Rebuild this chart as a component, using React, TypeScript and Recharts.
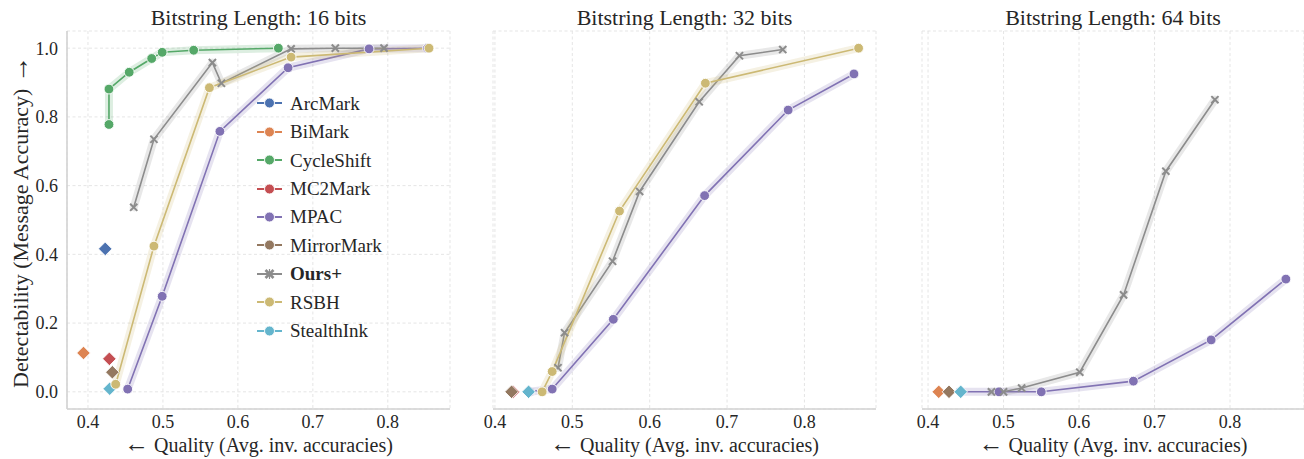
import { ComposedChart, Line, Scatter, XAxis, YAxis, CartesianGrid, Legend, Label } from "recharts";

const FONT = '"Liberation Serif", "DejaVu Serif", serif';
const TEXT = "#262626";
const AXIS = "#d2d2d2";
const GRID = "#e2e2e2";

// seaborn "deep"
const COLORS: Record<string, string> = {
  ArcMark: "#4C72B0",
  BiMark: "#DD8452",
  CycleShift: "#55A868",
  MC2Mark: "#C44E52",
  MPAC: "#8172B3",
  MirrorMark: "#937860",
  "Ours+": "#8C8C8C",
  RSBH: "#CCB974",
  StealthInk: "#64B5CD",
};

const legendNames = ["ArcMark", "BiMark", "CycleShift", "MC2Mark", "MPAC", "MirrorMark", "Ours+", "RSBH", "StealthInk"];

const yTicks = [0, 0.2, 0.4, 0.6, 0.8, 1.0];
const xTicks = [0.4, 0.5, 0.6, 0.7, 0.8];

type Pt = [number, number];

// 16 bits
const arcMark16: Pt[] = [[0.423, 0.416]];
const biMark16: Pt[] = [[0.394, 0.113]];
const cycleShift16: Pt[] = [[0.428, 0.778], [0.428, 0.881], [0.455, 0.93], [0.485, 0.97], [0.499, 0.988], [0.541, 0.994], [0.654, 1.0]];
const mc2Mark16: Pt[] = [[0.4285, 0.096]];
const mpac16: Pt[] = [[0.453, 0.008], [0.499, 0.278], [0.576, 0.758], [0.667, 0.943], [0.775, 0.998], [0.853, 1.0]];
const mirrorMark16: Pt[] = [[0.4325, 0.057]];
const ours16: Pt[] = [[0.461, 0.537], [0.488, 0.735], [0.566, 0.958], [0.578, 0.898], [0.671, 0.998], [0.73, 1.0], [0.795, 1.0]];
const rsbh16: Pt[] = [[0.437, 0.022], [0.488, 0.424], [0.562, 0.885], [0.671, 0.974], [0.855, 1.0]];
const stealthInk16: Pt[] = [[0.429, 0.009]];

// 32 bits
const mc2Mark32: Pt[] = [[0.4235, 0.0]];
const mpac32: Pt[] = [[0.445, 0.0], [0.474, 0.008], [0.553, 0.211], [0.671, 0.571], [0.779, 0.82], [0.864, 0.925]];
const mirrorMark32: Pt[] = [[0.4215, 0.0]];
const ours32: Pt[] = [[0.4815, 0.07], [0.49, 0.172], [0.552, 0.38], [0.587, 0.583], [0.664, 0.844], [0.716, 0.978], [0.772, 0.996]];
const rsbh32: Pt[] = [[0.461, 0.0], [0.474, 0.059], [0.561, 0.526], [0.672, 0.898], [0.87, 1.0]];
const stealthInk32: Pt[] = [[0.4435, 0.0]];

// 64 bits
const biMark64: Pt[] = [[0.4142, 0.0]];
const mpac64: Pt[] = [[0.443, 0.0], [0.494, 0.0], [0.55, 0.0], [0.672, 0.031], [0.775, 0.151], [0.874, 0.328]];
const mirrorMark64: Pt[] = [[0.4278, 0.0]];
const ours64: Pt[] = [[0.484, 0.0], [0.5, 0.0], [0.524, 0.011], [0.601, 0.057], [0.659, 0.282], [0.715, 0.642], [0.78, 0.85]];
const stealthInk64: Pt[] = [[0.4433, 0.0]];

type Marker = "circle" | "x" | "diamond";
interface Series { name: string; marker: Marker; pts: Pt[] }

const panels: { title: string; domain: [number, number]; left: number; width: number; ml: number; mr: number; series: Series[] }[] = [
  {
    title: "Bitstring Length: 16 bits", domain: [0.372, 0.883], left: 0, width: 460, ml: 22, mr: 10,
    series: [
      { name: "ArcMark", marker: "diamond", pts: arcMark16 },
      { name: "BiMark", marker: "diamond", pts: biMark16 },
      { name: "CycleShift", marker: "circle", pts: cycleShift16 },
      { name: "MC2Mark", marker: "diamond", pts: mc2Mark16 },
      { name: "MPAC", marker: "circle", pts: mpac16 },
      { name: "MirrorMark", marker: "diamond", pts: mirrorMark16 },
      { name: "Ours+", marker: "x", pts: ours16 },
      { name: "RSBH", marker: "circle", pts: rsbh16 },
      { name: "StealthInk", marker: "diamond", pts: stealthInk16 },
    ],
  },
  {
    title: "Bitstring Length: 32 bits", domain: [0.3975, 0.8925], left: 470, width: 420, ml: 23, mr: 14,
    series: [
      { name: "MC2Mark", marker: "diamond", pts: mc2Mark32 },
      { name: "MPAC", marker: "circle", pts: mpac32 },
      { name: "MirrorMark", marker: "diamond", pts: mirrorMark32 },
      { name: "Ours+", marker: "x", pts: ours32 },
      { name: "RSBH", marker: "circle", pts: rsbh32 },
      { name: "StealthInk", marker: "diamond", pts: stealthInk32 },
    ],
  },
  {
    title: "Bitstring Length: 64 bits", domain: [0.392, 0.898], left: 900, width: 404, ml: 22, mr: 0,
    series: [
      { name: "BiMark", marker: "diamond", pts: biMark64 },
      { name: "MPAC", marker: "circle", pts: mpac64 },
      { name: "MirrorMark", marker: "diamond", pts: mirrorMark64 },
      { name: "Ours+", marker: "x", pts: ours64 },
      { name: "StealthInk", marker: "diamond", pts: stealthInk64 },
    ],
  },
];

const toRows = (pts: Pt[]) => pts.map(([x, y]) => ({ x, y }));

const dotFor = (marker: Marker, color: string) => (p: any) => {
  if (p.cx == null || p.cy == null) return <g key={p.index} />;
  if (marker === "x") {
    const s = 3.6;
    return (
      <g key={p.index} stroke={color} strokeWidth={2}>
        <line x1={p.cx - s} y1={p.cy - s} x2={p.cx + s} y2={p.cy + s} />
        <line x1={p.cx - s} y1={p.cy + s} x2={p.cx + s} y2={p.cy - s} />
      </g>
    );
  }
  return <circle key={p.index} cx={p.cx} cy={p.cy} r={4.9} fill={color} stroke="#fff" strokeWidth={0.9} />;
};

const diamondShape = (color: string) => (p: any) => {
  const s = 6.8;
  const { cx, cy } = p;
  return (
    <polygon
      points={`${cx},${cy - s} ${cx + s},${cy} ${cx},${cy + s} ${cx - s},${cy}`}
      fill={color}
      stroke="#fff"
      strokeWidth={0.9}
    />
  );
};

const LegendBox = () => (
  <div style={{ fontFamily: FONT, color: TEXT, fontSize: 19 }}>
    {legendNames.map((name) => {
      const c = COLORS[name];
      return (
        <div key={name} style={{ display: "flex", alignItems: "center", height: 28.45 }}>
          <svg width={33} height={14}>
            <line x1={0} y1={7} x2={25} y2={7} stroke={c} strokeWidth={2} />
            {name === "Ours+" ? (
              <g stroke={c} strokeWidth={2.6}>
                <line x1={8.5} y1={3} x2={16.5} y2={11} />
                <line x1={8.5} y1={11} x2={16.5} y2={3} />
                <line x1={12.5} y1={2} x2={12.5} y2={12} strokeWidth={1.2} />
              </g>
            ) : (
              <circle cx={12.5} cy={7} r={5} fill={c} stroke="#fff" strokeWidth={0.9} />
            )}
          </svg>
          <span style={{ fontWeight: name === "Ours+" ? "bold" : "normal", lineHeight: 1 }}>{name}</span>
        </div>
      );
    })}
  </div>
);

const tickStyle = { fill: TEXT, fontSize: 18, fontFamily: FONT };

const renderXLabel = (props: any) => {
  const vb = props.viewBox || {};
  const x = vb.x + vb.width / 2;
  const y = vb.y + vb.height - 7;
  return (
    <text x={x} y={y} textAnchor="middle" fill={TEXT} fontSize={20} fontFamily={FONT}>
      <tspan fontSize={25}>{"\u2190"}</tspan>
      {" Quality (Avg. inv. accuracies)"}
    </text>
  );
};

const renderYLabel = (props: any) => {
  const vb = props.viewBox || {};
  const cy = vb.y + vb.height / 2 + 2;
  return (
    <text transform={`translate(27.5, ${cy}) rotate(-90)`} textAnchor="middle" fill={TEXT} fontSize={22} fontFamily={FONT}>
      {"Detectability (Message Accuracy) "}
      <tspan fontSize={27}>{"\u2192"}</tspan>
    </text>
  );
};

const Panel = ({ idx }: { idx: number }) => {
  const p = panels[idx];
  const first = idx === 0;
  const plotLeft = p.left + p.ml + (first ? 45 : 0);
  const plotRight = p.left + p.width - p.mr;
  const center = (plotLeft + plotRight) / 2;
  return (
    <>
      <div
        style={{
          position: "absolute", left: center - 200, top: 6, width: 400, textAlign: "center",
          fontSize: 22, lineHeight: "24px", fontFamily: FONT, color: TEXT,
        }}
      >
        {p.title}
      </div>
      <div style={{ position: "absolute", left: p.left, top: 0 }}>
        <ComposedChart width={p.width} height={459} margin={{ top: 31, right: p.mr, bottom: 0, left: p.ml }}>
          <CartesianGrid stroke={GRID} strokeDasharray="3 2.5" strokeWidth={0.9} />
          <XAxis
            type="number"
            dataKey="x"
            domain={p.domain}
            allowDataOverflow
            ticks={xTicks}
            tickFormatter={(v: number) => v.toFixed(1)}
            tick={tickStyle}
            tickLine={false}
            tickSize={6}
            tickMargin={0}
            axisLine={{ stroke: AXIS, strokeWidth: 1.6 }}
            height={50}
          >
            <Label content={renderXLabel} />
          </XAxis>
          <YAxis
            type="number"
            dataKey="y"
            domain={[-0.05, 1.05]}
            allowDataOverflow
            ticks={yTicks}
            tickFormatter={(v: number) => v.toFixed(1)}
            tick={first ? tickStyle : false}
            tickLine={false}
            tickSize={6}
            tickMargin={3}
            width={first ? 45 : 0}
            axisLine={{ stroke: AXIS, strokeWidth: 1.6 }}
          >
            {first && <Label content={renderYLabel} />}
          </YAxis>
          {p.series.map((s) => {
            const c = COLORS[s.name];
            const rows = toRows(s.pts);
            if (s.marker === "diamond") {
              return (
                <Scatter
                  key={s.name}
                  name={s.name}
                  data={rows}
                  fill={c}
                  shape={diamondShape(c)}
                  isAnimationActive={false}
                />
              );
            }
            return [
              <Line
                key={s.name + "-band"}
                data={rows}
                dataKey="y"
                stroke={c}
                strokeOpacity={0.2}
                strokeWidth={8}
                strokeLinejoin="round"
                strokeLinecap="round"
                dot={false}
                activeDot={false}
                legendType="none"
                isAnimationActive={false}
              />,
              <Line
                key={s.name}
                name={s.name}
                data={rows}
                dataKey="y"
                stroke={c}
                strokeWidth={1.6}
                dot={dotFor(s.marker, c)}
                activeDot={false}
                isAnimationActive={false}
              />,
            ];
          })}
          {first && (
            <Legend
              layout="vertical"
              align="center"
              verticalAlign="middle"
              content={() => <LegendBox />}
              wrapperStyle={{ left: 257, top: 89, width: "auto" }}
            />
          )}
        </ComposedChart>
      </div>
    </>
  );
};

export default function App() {
  return (
    <div style={{ position: "absolute", left: 0, top: 0, width: 1304, height: 459, background: "#fff", overflow: "hidden" }}>
      <Panel idx={0} />
      <Panel idx={1} />
      <Panel idx={2} />
    </div>
  );
}
